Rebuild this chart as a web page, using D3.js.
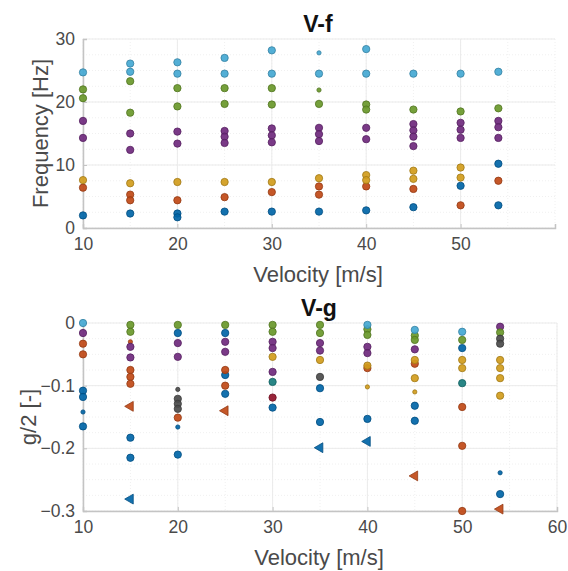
<!DOCTYPE html>
<html><head><meta charset="utf-8">
<script src="https://cdn.jsdelivr.net/npm/d3@7"></script>
<style>
html,body{margin:0;padding:0;background:#fff;}
svg{display:block;font-family:"Liberation Sans",Arial,sans-serif;}
</style></head>
<body><svg id="c" width="568" height="571"></svg>
<script>
// ---------- data ----------
const velocities = [10, 15, 20, 25, 30, 35, 40, 45, 50, 54];
const xTicksTop = [10, 20, 30, 40, 50];
const xTicksBottom = [10, 20, 30, 40, 50, 60];
const yTicksTop = [0, 10, 20, 30];
const yTicksBottom = [0, -0.1, -0.2, -0.3];

// Frequency [Hz] per velocity (several values per velocity possible)
const fCyan   = [[24.7],[26.1,24.8],[26.3,24.5],[27.0,24.5],[28.2,24.5],[24.5],[28.4,24.5],[24.5],[24.5],[24.8]];
const fCyanS  = [[],[],[],[],[],[27.8],[],[],[],[]];
const fGreen  = [[22.0,20.6],[23.3,18.3],[22.2,19.3],[22.2,19.7],[22.2,19.6],[19.7],[19.6,18.8],[18.8],[18.5],[19.0]];
const fGreenS = [[],[],[],[],[],[21.9],[],[],[],[]];
const fPurple = [[17.0,14.3],[15.0,12.4],[15.3,13.4],[15.4,14.5,13.5],[15.8,14.7,13.6],[15.9,14.9,13.8],[15.9,14.1],[16.5,15.5,14.5,13.0],[16.7,15.6,14.3],[17.0,16.0,14.3]];
const fYellow = [[7.6],[7.1],[7.3],[7.3],[7.3],[7.9],[8.4,7.6],[9.1,7.8],[9.6,8.0],[]];
const fOrange = [[6.4],[5.3,4.4],[4.4],[4.9],[5.7],[6.6,5.3],[6.6],[6.2],[3.6],[7.5]];
const fBlue   = [[2.0],[2.3],[2.3,1.7],[2.6],[2.6],[2.6],[2.8],[3.3],[6.7],[10.2,3.6]];

// Damping g/2 [-] per velocity
const gCyan    = [[0.0],[],[],[],[],[],[-0.003],[-0.011],[-0.014],[]];
const gGreen   = [[],[-0.003,-0.014],[-0.003],[-0.003],[-0.003,-0.014],[-0.003,-0.016],[-0.010,-0.019],[-0.020,-0.027],[-0.027],[-0.015]];
const gPurple  = [[-0.016],[-0.038,-0.055],[-0.032,-0.054],[-0.030,-0.046],[-0.030,-0.040,-0.078],[-0.032,-0.044],[-0.038,-0.048],[-0.042],[],[-0.006]];
const gYellow  = [[],[],[],[],[-0.054],[-0.059],[-0.068],[-0.059,-0.088],[-0.059,-0.072],[-0.059,-0.072,-0.088,-0.116]];
const gYellowS = [[],[],[],[],[],[],[-0.102],[-0.110],[],[]];
const gOrange  = [[-0.033,-0.050],[-0.075,-0.086,-0.097],[-0.151],[-0.075,-0.100],[],[],[-0.072],[-0.065],[-0.134,-0.196,-0.300],[]];
const gOrangeS = [[],[-0.030],[],[],[],[],[],[],[],[]];
const gOrangeT = [[],[-0.133],[],[-0.140],[],[],[],[-0.244],[],[-0.297]];
const gBlue    = [[-0.108,-0.118,-0.165],[-0.183,-0.215],[-0.016,-0.210],[-0.016,-0.083,-0.113],[-0.135],[-0.104,-0.158],[-0.153],[-0.132,-0.156],[-0.040],[-0.273]];
const gBlueS   = [[-0.142],[],[-0.166],[],[],[],[],[],[],[-0.239]];
const gBlueT   = [[],[-0.281],[],[],[],[-0.199],[-0.189],[],[],[]];
const gTeal    = [[],[],[],[],[-0.094],[],[],[],[-0.096],[]];
const gRed     = [[],[],[],[],[-0.119],[],[],[],[],[]];
const gGray    = [[],[],[-0.121,-0.129,-0.137],[],[],[-0.086],[],[],[],[-0.025,-0.033]];
const gGrayS   = [[],[],[-0.106],[],[],[],[],[],[],[]];

// ---------- style ----------
const C = {blue:"#0072BD", orange:"#D95319", yellow:"#EDB120", purple:"#7E2F8E",
           green:"#77AC30", cyan:"#4DBEEE", red:"#A2142F", teal:"#1A8C8C", gray:"#555555"};

const topSeries = [
  {v:fBlue,c:C.blue,s:"o"},{v:fOrange,c:C.orange,s:"o"},{v:fYellow,c:C.yellow,s:"o"},
  {v:fPurple,c:C.purple,s:"o"},{v:fGreen,c:C.green,s:"o"},{v:fGreenS,c:C.green,s:"."},
  {v:fCyan,c:C.cyan,s:"o"},{v:fCyanS,c:C.cyan,s:"."}
];
const botSeries = [
  {v:gBlue,c:C.blue,s:"o"},{v:gBlueS,c:C.blue,s:"."},{v:gBlueT,c:C.blue,s:"<"},
  {v:gOrange,c:C.orange,s:"o"},{v:gOrangeS,c:C.orange,s:"."},{v:gOrangeT,c:C.orange,s:"<"},
  {v:gYellow,c:C.yellow,s:"o"},{v:gYellowS,c:C.yellow,s:"."},
  {v:gPurple,c:C.purple,s:"o"},{v:gGreen,c:C.green,s:"o"},{v:gCyan,c:C.cyan,s:"o"},
  {v:gTeal,c:C.teal,s:"o"},{v:gRed,c:C.red,s:"o"},{v:gGray,c:C.gray,s:"o"},{v:gGrayS,c:C.gray,s:"."}
];

const svg = d3.select("#c");
const FONT = "'Liberation Sans',Arial,sans-serif";

function panel(opt){
  const {left,right,top,bottom,xDomain,yDomain,xTicks,yTicks,yFmt,title,ylabel,ylabelX,series,xMinor,yMinor} = opt;
  const x = d3.scaleLinear().domain(xDomain).range([left,right]);
  const y = d3.scaleLinear().domain(yDomain).range([bottom,top]);
  const g = svg.append("g");
  // minor grid
  g.append("g").selectAll("line").data(xMinor).join("line")
    .attr("x1",d=>x(d)).attr("x2",d=>x(d)).attr("y1",top).attr("y2",bottom)
    .attr("stroke","#f0f0f0").attr("stroke-dasharray","1,2");
  g.append("g").selectAll("line").data(yMinor).join("line")
    .attr("y1",d=>y(d)).attr("y2",d=>y(d)).attr("x1",left).attr("x2",right)
    .attr("stroke","#f0f0f0").attr("stroke-dasharray","1,2");
  // major grid
  g.append("g").selectAll("line").data(xTicks).join("line")
    .attr("x1",d=>x(d)).attr("x2",d=>x(d)).attr("y1",top).attr("y2",bottom)
    .attr("stroke","#ebebeb");
  g.append("g").selectAll("line").data(yTicks).join("line")
    .attr("y1",d=>y(d)).attr("y2",d=>y(d)).attr("x1",left).attr("x2",right)
    .attr("stroke","#ebebeb");
  // axes
  const xa = g.append("g").attr("transform",`translate(0,${bottom})`)
    .call(d3.axisBottom(x).tickValues(xTicks).tickSize(-4).tickPadding(10).tickFormat(d3.format("d")));
  const ya = g.append("g").attr("transform",`translate(${left},0)`)
    .call(d3.axisLeft(y).tickValues(yTicks).tickSize(-4).tickPadding(8).tickFormat(yFmt));
  [xa,ya].forEach(a=>{
    a.select(".domain").attr("stroke","#c4c4c4").attr("stroke-width",1.5);
    a.selectAll(".tick line").attr("stroke","#c4c4c4");
    a.selectAll(".tick text").attr("fill","#4a4a4a").style("font-size","17.5px").style("font-family",FONT);
  });
  // labels
  g.append("text").attr("x",(left+right)/2 - 1).attr("y",bottom+54).attr("text-anchor","middle")
    .attr("fill","#4a4a4a").style("font-size","22px").text("Velocity [m/s]");
  g.append("text").attr("transform",`translate(${ylabelX},${(top+bottom)/2}) rotate(-90)`)
    .attr("text-anchor","middle").attr("fill","#4a4a4a").style("font-size","22px").text(ylabel);
  g.append("text").attr("x",(left+right)/2 - 1).attr("y",top-7).attr("text-anchor","middle")
    .attr("fill","#111").style("font-size","23px").style("font-weight","bold").text(title);
  // points
  const pts = [];
  series.forEach(s=>{
    s.v.forEach((vals,i)=>vals.forEach(val=>pts.push({vx:velocities[i],vy:val,c:s.c,s:s.s})));
  });
  const tri = d3.symbol().type(d3.symbolTriangle).size(42);
  g.append("g").selectAll("path").data(pts).join("path")
    .attr("d",d=> d.s==="<" ? tri() : d3.symbol().type(d3.symbolCircle).size(d.s==="."?14:42)())
    .attr("transform",d=>`translate(${x(d.vx)},${y(d.vy)})` + (d.s==="<" ? " rotate(-90)" : ""))
    .attr("fill",d=>d3.color(d.c).darker(0.35)).attr("fill-opacity",0.92)
    .attr("stroke",d=>d3.color(d.c).darker(1.1)).attr("stroke-width",0.8);
}

panel({left:83,right:555,top:39,bottom:228,xDomain:[10,60],yDomain:[0,30],
  xTicks:xTicksTop,yTicks:yTicksTop,yFmt:d3.format("d"),title:"V-f",ylabel:"Frequency [Hz]",ylabelX:48,
  series:topSeries,xMinor:d3.range(10,61,5),yMinor:d3.range(0,31,2.5)});
panel({left:83,right:557,top:323,bottom:511,xDomain:[10,60],yDomain:[-0.3,0],
  xTicks:xTicksBottom,yTicks:yTicksBottom,yFmt:d=>d===0?"0":d3.format(".1f")(d),title:"V-g",ylabel:"g/2 [-]",ylabelX:36,
  series:botSeries,xMinor:d3.range(10,61,5),yMinor:d3.range(-0.3,0.001,0.025)});
</script></body></html>
